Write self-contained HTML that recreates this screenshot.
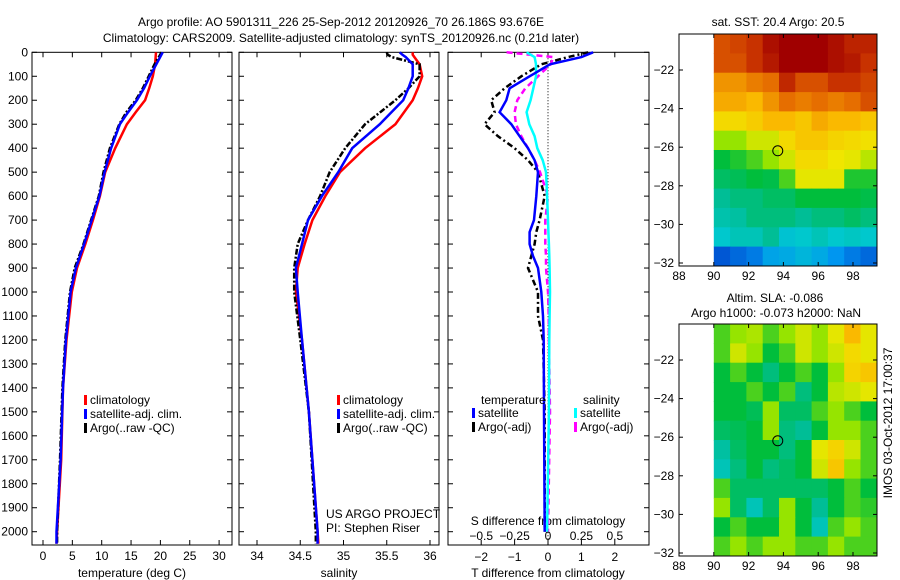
<!DOCTYPE html>
<html><head><meta charset="utf-8"><style>
body{margin:0;background:#fff;}
svg{display:block;font-family:"Liberation Sans",sans-serif;font-size:12px;}
</style></head><body>
<svg id="fig" width="900" height="580" viewBox="0 0 900 580"></svg>
<script>
// ---------- data ----------
const tDepth = [0,50,100,150,200,250,300,400,500,600,700,800,900,1000,1200,1400,1700,2000,2050];
const tClim  = [19.25,19.1,18.7,18.1,17.4,15.8,14.3,12.3,10.6,9.7,8.5,7.2,5.8,4.9,4.0,3.4,3.1,2.4,2.3];
const tSat   = [20.4,19.3,18.2,17.2,16.0,14.5,13.1,11.6,10.5,9.6,8.3,7.0,5.6,4.7,3.9,3.4,3.0,2.3,2.3];
const tArgo  = [20.2,19.0,18.0,17.0,15.8,14.2,13.0,11.4,10.3,9.5,8.2,6.9,5.4,4.6,3.8,3.3,2.9,2.4,2.4];
const sDepth = [0,10,20,50,100,150,200,300,400,500,600,700,800,900,1000,1200,1500,2000,2050];
const sClim  = [35.80,35.80,35.82,35.88,35.91,35.86,35.80,35.6,35.25,34.96,34.79,34.64,34.55,34.47,34.45,34.52,34.6,34.7,34.71];
const sSat   = [35.65,35.68,35.72,35.80,35.80,35.75,35.69,35.42,35.1,34.94,34.75,34.59,34.52,34.45,34.47,34.52,34.6,34.7,34.7];
const sArgo  = [35.5,35.51,35.56,35.88,35.88,35.75,35.6,35.25,35.02,34.84,34.73,34.59,34.47,34.43,34.43,34.5,34.6,34.68,34.68];
const dDepth = [0,20,50,100,150,200,250,300,350,400,450,500,600,700,750,800,850,900,1000,1100,1200,1500,2000];
const dTsat  = [1.35,1.0,0.06,-0.55,-1.15,-1.25,-1.45,-1.1,-0.85,-0.6,-0.4,-0.3,-0.35,-0.42,-0.55,-0.55,-0.45,-0.3,-0.2,-0.15,-0.13,-0.12,-0.1];
const dTargo = [1.2,0.6,-0.2,-0.8,-1.3,-1.7,-1.6,-1.9,-1.5,-1.0,-0.6,-0.3,-0.1,-0.25,-0.35,-0.4,-0.5,-0.6,-0.3,-0.3,-0.15,-0.1,-0.1];
const dSsat  = [-0.16,-0.1,-0.09,-0.09,-0.11,-0.13,-0.16,-0.14,-0.1,-0.08,-0.04,-0.015,-0.007,0,0.003,0.007,0.01,0.012,0.015,0.012,0.01,0.007,-0.007];
const dSargo = [-0.31,0.04,0.02,-0.075,-0.17,-0.23,-0.25,-0.24,-0.2,-0.15,-0.1,-0.06,0,-0.02,-0.02,-0.02,-0.015,-0.015,0,0.005,0.007,0.015,0];
const depthTicks = [0,100,200,300,400,500,600,700,800,900,1000,1100,1200,1300,1400,1500,1600,1700,1800,1900,2000];
const tTicks = [0,5,10,15,20,25,30];
const sTicks = [34,34.5,35,35.5,36];
const dTTicks = [-2,-1,0,1,2];
const dSTicks = [-0.5,-0.25,0,0.25,0.5];
const dSTickLabels = ["-0.5","-0.25","0","0.25","0.5"];
const mapXTicks = [88,90,92,94,96,98];
const mapYTicks = [-22,-24,-26,-28,-30,-32];
const argoLon = 93.676, argoLat = -26.186;
const sstGrid = [
[0.85,0.87,0.9,0.97,1,1,1,0.97,0.93,0.93],
[0.85,0.85,0.9,0.95,1,1,1,0.97,0.95,0.9],
[0.75,0.75,0.78,0.8,0.92,0.85,0.85,0.9,0.9,0.87],
[0.72,0.72,0.7,0.75,0.8,0.78,0.8,0.78,0.8,0.85],
[0.65,0.65,0.67,0.7,0.7,0.68,0.72,0.7,0.7,0.68],
[0.55,0.55,0.6,0.6,0.65,0.68,0.68,0.66,0.65,0.64],
[0.45,0.47,0.5,0.55,0.6,0.65,0.65,0.63,0.62,0.58],
[0.42,0.43,0.45,0.44,0.5,0.62,0.62,0.62,0.47,0.47],
[0.38,0.4,0.4,0.42,0.42,0.45,0.45,0.45,0.45,0.44],
[0.36,0.37,0.4,0.4,0.4,0.38,0.4,0.4,0.42,0.4],
[0.33,0.35,0.35,0.38,0.32,0.33,0.35,0.33,0.34,0.33],
[0.18,0.2,0.22,0.27,0.28,0.3,0.28,0.25,0.22,0.2]];
const slaGrid = [
[0.5,0.55,0.57,0.5,0.55,0.6,0.55,0.62,0.7,0.62],
[0.5,0.6,0.55,0.45,0.5,0.6,0.55,0.6,0.65,0.62],
[0.45,0.5,0.45,0.4,0.45,0.5,0.45,0.55,0.66,0.68],
[0.45,0.45,0.5,0.45,0.5,0.4,0.45,0.58,0.6,0.62],
[0.45,0.45,0.43,0.55,0.42,0.42,0.5,0.55,0.5,0.45],
[0.42,0.43,0.45,0.55,0.4,0.38,0.45,0.55,0.55,0.5],
[0.37,0.42,0.45,0.45,0.4,0.45,0.62,0.66,0.6,0.5],
[0.35,0.4,0.45,0.4,0.42,0.45,0.6,0.68,0.55,0.5],
[0.5,0.42,0.42,0.42,0.42,0.42,0.42,0.45,0.5,0.45],
[0.55,0.42,0.35,0.42,0.55,0.45,0.38,0.45,0.5,0.48],
[0.45,0.5,0.45,0.45,0.55,0.45,0.35,0.5,0.55,0.5],
[0.5,0.55,0.5,0.55,0.55,0.5,0.5,0.55,0.5,0.5]];

// ---------- helpers ----------
const NS="http://www.w3.org/2000/svg";
const svg=document.getElementById('fig');
function mk(tag,attrs,parent){const e=document.createElementNS(NS,tag);for(const k in attrs)e.setAttribute(k,attrs[k]);(parent||svg).appendChild(e);return e;}
function txt(s,x,y,anchor,parent){const e=mk('text',{x:x,y:y,'text-anchor':anchor||'middle'},parent);e.textContent=s;return e;}
const Y0=52.3, PY=0.2397, BOT=545;
const yD=d=>Y0+d*PY;
const cmapStops=[[0.15,[0,60,200]],[0.25,[0,150,240]],[0.33,[0,200,205]],[0.38,[0,190,150]],[0.45,[0,190,60]],[0.55,[150,228,0]],[0.63,[240,230,0]],[0.7,[250,185,0]],[0.8,[230,110,0]],[0.9,[200,50,0]],[1.0,[160,0,0]]];
function cmap(v){
 if(v<=cmapStops[0][0])return `rgb(${cmapStops[0][1].join(',')})`;
 for(let i=1;i<cmapStops.length;i++){const[a,ca]=cmapStops[i-1],[b,cb]=cmapStops[i];
  if(v<=b){const t=(v-a)/(b-a);return `rgb(${ca.map((c,k)=>Math.round(c+(cb[k]-c)*t)).join(',')})`;}}
 return `rgb(${cmapStops[cmapStops.length-1][1].join(',')})`;}

function frame(x0,x1,name){
 const g=mk('g',{});
 
 
 mk('rect',{x:x0,y:Y0,width:x1-x0,height:BOT-Y0,fill:'none',stroke:'#000','stroke-width':1},g);
 depthTicks.forEach(d=>{const y=yD(d);
  mk('line',{x1:x0,y1:y,x2:x0+5,y2:y,stroke:'#000'},g);
  mk('line',{x1:x1-5,y1:y,x2:x1,y2:y,stroke:'#000'},g);});
 return g;}
function line(xs,ds,fx,color,w,dash,name){
 const pts=xs.map((v,i)=>fx(v).toFixed(1)+','+yD(ds[i]).toFixed(1)).join(' ');
 const p=mk('polyline',{points:pts,fill:'none',stroke:color,'stroke-width':w});
 if(dash)p.setAttribute('stroke-dasharray',dash);
 
 
}
function legendRow(x,y,color,label,parent){
 mk('rect',{x:x,y:y-9,width:3,height:10,fill:color},parent);
 txt(label,x+6,y,'start',parent);}

// ---------- titles ----------
const t1=txt('Argo profile: AO 5901311_226 25-Sep-2012 20120926_70 26.186S 93.676E',341,26);

const t2=txt('Climatology: CARS2009. Satellite-adjusted climatology: synTS_20120926.nc (0.21d later)',341,42);


// ---------- panel 1 temperature ----------
const fT=v=>43+v*5.87;
const g1=frame(32,232,'temperature-panel');
depthTicks.forEach(d=>{txt(String(d),28,yD(d)+4,'end',g1);});
tTicks.forEach(v=>{const x=fT(v);mk('line',{x1:x,y1:BOT,x2:x,y2:BOT-5,stroke:'#000'},g1);mk('line',{x1:x,y1:Y0,x2:x,y2:Y0+5,stroke:'#000'},g1);txt(String(v),x,560,'middle',g1);});
txt('temperature (deg C)',132,577,'middle',g1);
line(tClim,tDepth,fT,'#f00',2.5,null,'temp-climatology-line');
line(tArgo,tDepth,fT,'#000',2.5,'6 2 2 2','temp-argo-line');
line(tSat,tDepth,fT,'#00f',2.5,null,'temp-satellite-line');
const lg1=mk('g',{});
legendRow(84,404,'#f00','climatology',lg1);legendRow(84,418,'#00f','satellite-adj. clim.',lg1);legendRow(84,432,'#000','Argo(..raw -QC)',lg1);

// ---------- panel 2 salinity ----------
const fS=v=>257+(v-34)*86.5;
const g2=frame(239,439,'salinity-panel');
sTicks.forEach(v=>{const x=fS(v);mk('line',{x1:x,y1:BOT,x2:x,y2:BOT-5,stroke:'#000'},g2);mk('line',{x1:x,y1:Y0,x2:x,y2:Y0+5,stroke:'#000'},g2);txt(String(v),x,560,'middle',g2);});
txt('salinity',339,577,'middle',g2);
line(sClim,sDepth,fS,'#f00',2.5,null,'sal-climatology-line');
line(sArgo,sDepth,fS,'#000',2.5,'6 2 2 2','sal-argo-line');
line(sSat,sDepth,fS,'#00f',2.5,null,'sal-satellite-line');
const lg2=mk('g',{});
legendRow(337,404,'#f00','climatology',lg2);legendRow(337,418,'#00f','satellite-adj. clim.',lg2);legendRow(337,432,'#000','Argo(..raw -QC)',lg2);
const pi=mk('g',{});
txt('US ARGO PROJECT',326,518,'start',pi);txt('PI: Stephen Riser',326,532,'start',pi);

// ---------- panel 3 differences ----------
const fdT=v=>548+v*33.4;
const fdS=v=>548+v*133.6;
const g3=frame(448,649,'difference-panel');
mk('line',{x1:548,y1:Y0,x2:548,y2:BOT,stroke:'#000','stroke-dasharray':'1 2'},g3);
dTTicks.forEach(v=>{const x=fdT(v);mk('line',{x1:x,y1:BOT,x2:x,y2:BOT-5,stroke:'#000'},g3);mk('line',{x1:x,y1:Y0,x2:x,y2:Y0+5,stroke:'#000'},g3);txt(String(v).replace('-','\u2212'),x,561,'middle',g3);});
dSTicks.forEach((v,i)=>{txt(dSTickLabels[i].replace('-','\u2212'),fdS(v),540,'middle',g3);});
txt('S difference from climatology',548,525,'middle',g3);
txt('T difference from climatology',548,577,'middle',g3);
line(dTargo,dDepth,fdT,'#000',2.5,'6 3 2 3','tdiff-argo-line');
line(dSargo,dDepth,fdS,'#f0f',2.5,'6 4','sdiff-argo-line');
line(dSsat,dDepth,fdS,'#0ff',2.5,null,'sdiff-satellite-line');
line(dTsat,dDepth,fdT,'#00f',2.5,null,'tdiff-satellite-line');
const lg3=mk('g',{});
txt('temperature',481,404,'start',lg3);txt('salinity',583,404,'start',lg3);
legendRow(472,417,'#00f','satellite',lg3);legendRow(472,431,'#000','Argo(-adj)',lg3);
legendRow(574,417,'#0ff','satellite',lg3);legendRow(574,431,'#f0f','Argo(-adj)',lg3);

// ---------- maps ----------
function drawMap(grid,top,name){
 const L=679,R=877,H=232;
 const fx=lon=>679+(lon-88)*17.4;
 const fy=lat=>top+36+(-22-lat)*19.3;
 const g=mk('g',{});
 const lat0=-20.14, lon0=90, dlon=(99.37-90)/grid[0].length, dlat=(32.15-20.14)/grid.length;
 grid.forEach((row,i)=>row.forEach((v,j)=>{
  const x=fx(lon0+j*dlon), y=fy(lat0-i*dlat);
  const c=mk('rect',{x:x.toFixed(1),y:y.toFixed(1),width:(dlon*17.4+0.6).toFixed(1),height:(dlat*19.3+0.6).toFixed(1),fill:cmap(v)},g);
  
  
 }));
 mk('rect',{x:L,y:top,width:R-L,height:H,fill:'none',stroke:'#000'},g);
 mapXTicks.forEach(v=>{const x=fx(v);mk('line',{x1:x,y1:top+H,x2:x,y2:top+H-4,stroke:'#000'},g);mk('line',{x1:x,y1:top,x2:x,y2:top+4,stroke:'#000'},g);txt(String(v),x,top+H+14,'middle',g);});
 mapYTicks.forEach(v=>{const y=fy(v);mk('line',{x1:L,y1:y,x2:L+4,y2:y,stroke:'#000'},g);mk('line',{x1:R-4,y1:y,x2:R,y2:y,stroke:'#000'},g);txt(String(v).replace('-','\u2212'),674,y+4,'end',g);});
 const c=mk('circle',{cx:fx(argoLon),cy:fy(argoLat),r:5,fill:'none',stroke:'#000','stroke-width':1},g);
 
}
drawMap(sstGrid,34,'sst-map');
drawMap(slaGrid,324,'sla-map');
const m1=txt('sat. SST: 20.4 Argo: 20.5',778,26);
const m2=txt('Altim. SLA: -0.086',775,302);
const m3=txt('Argo h1000: -0.073 h2000: NaN',776,317);
const st=txt('IMOS 03-Oct-2012 17:00:37',0,0,'middle');st.setAttribute('transform','translate(892,423) rotate(-90)');

</script>
</body></html>
